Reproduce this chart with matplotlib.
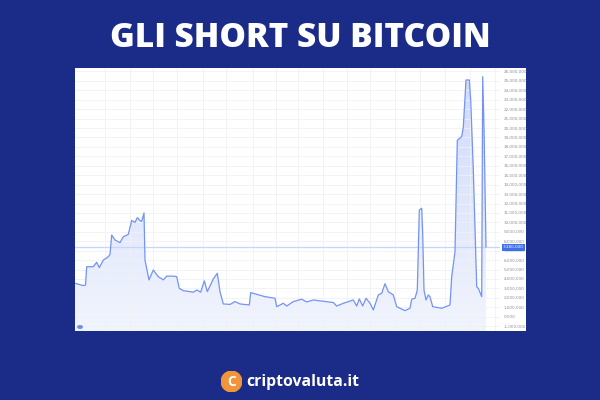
import matplotlib.pyplot as plt
import matplotlib.patches as mpatches
import numpy as np

# Short positions on bitcoin (values in millions), time as day index
days = [0, 8, 10.5, 11.7, 18.3, 21.7, 24.3, 28.3, 33.3, 35, 36.7, 40, 45, 48.3,
        53.3, 56.7, 60, 62.3, 65, 66.7, 69, 70, 74, 78.3, 83.3, 88.3, 91.7,
        98.3, 101.7, 104.3, 108.3, 118.3, 121.7, 125.7, 129.3, 132.3, 138.3,
        142.3, 145, 148.3, 155, 160, 165, 174.3, 175.7, 190, 200, 201.7, 208.3,
        211.7, 218.3, 226.7, 231.7, 238.3, 258.3, 261.7, 268.3, 278.3, 281.7,
        284.3, 287.7, 291, 295, 298.3, 303.3, 306.7, 310, 313.3, 318.3, 321.7,
        325, 330, 335, 336.7, 340, 342.3, 344.3, 346.7, 347.7, 349, 351, 353.3,
        355, 357.7, 366.7, 375, 376.7, 380, 382.3, 386.7, 388.3, 391, 394.3,
        395.7, 398.3, 401.7, 403.3, 406.7, 407.7, 409, 411]
shorts = [3.54, 3.3, 3.35, 5.3, 5.3, 5.77, 5.2, 6.0, 6.36, 6.6, 8.66, 8.13, 7.85,
          8.48, 8.73, 10.2, 10.0, 10.5, 10.2, 10.1, 11.0, 6.0, 3.9, 4.95, 4.24,
          3.9, 4.3, 4.3, 4.24, 3.0, 2.76, 2.6, 2.83, 2.6, 3.8, 2.65, 4.0, 4.6,
          2.65, 1.35, 1.3, 1.6, 1.35, 1.24, 2.55, 2.12, 1.95, 1.06, 1.42, 1.13,
          1.6, 1.85, 1.56, 1.77, 1.5, 1.13, 1.42, 1.77, 1.13, 1.88, 1.13, 1.95,
          1.42, 0.71, 2.3, 2.48, 3.5, 2.65, 2.3, 1.06, 0.89, 0.64, 0.89, 1.85,
          1.95, 2.83, 11.3, 11.5, 8.8, 2.83, 1.77, 2.3, 2.12, 1.06, 0.89, 1.24,
          4.24, 6.9, 18.7, 19.1, 20.1, 25.1, 25.1, 23.0, 15.6, 3.18, 3.0, 2.12,
          25.45, 20.1, 7.4]
grid_days = [30, 55, 78, 102, 128, 151, 178, 201, 223, 248, 272, 295, 320,
             345, 370, 395, 420]
y_ticks = list(range(-1, 27))
last_value = 7.38

bg = '#1b2b88'
line_col = '#7393f6'

fig = plt.figure(figsize=(6, 4), dpi=100)
fig.patch.set_facecolor(bg)

fig.text(0.5, 1 - 38 / 400, 'GLI SHORT SU BITCOIN', color='white',
         fontsize=24, fontweight='heavy', family='Open Sans',
         ha='center', va='center')

# white chart panel
fig.patches.append(mpatches.Rectangle((75 / 600, 1 - 331 / 400), 451 / 600,
                                      263 / 400, transform=fig.transFigure,
                                      facecolor='white', edgecolor='none',
                                      zorder=-5))

ax = fig.add_axes([75 / 600, 1 - 331 / 400, 425 / 600, 263 / 400])
ax.patch.set_alpha(0)
for s in ax.spines.values():
    s.set_visible(False)

x = np.array(days)
y = np.array(shorts)

# gradient fill under the line
ymin, ymax = -1.52, 26.37
grad = np.linspace(0.15, 0.55, 256).reshape(-1, 1)
cmap = plt.matplotlib.colors.LinearSegmentedColormap.from_list(
    'g', ['#ffffff', '#c9d6fb'])
im = ax.imshow(grad, extent=[0, 425, ymin, ymax], aspect='auto',
               cmap=cmap, vmin=0, vmax=0.6, origin='lower', zorder=1)
poly = ax.fill_between(x, y, ymin, color='none')
im.set_clip_path(poly.get_paths()[0], ax.transData)

ax.plot(x, y, color=line_col, lw=0.9, zorder=3)

ax.set_xlim(0, 425)
ax.set_ylim(ymin, ymax)
ax.set_xticks(grid_days)
ax.set_xticklabels([])
ax.tick_params(axis='x', length=0)
ax.set_yticks(y_ticks)
labels = []
for v in y_ticks:
    if v == 0:
        labels.append('0.000')
    else:
        labels.append(f'{v * 1000000:,}')
ax.set_yticklabels(labels)
ax.yaxis.tick_right()
ax.tick_params(axis='y', length=0, labelsize=3.0, labelcolor='#8a8f99', pad=2.5)
ax.grid(True, color='#f0f1f6', lw=0.6, zorder=0)

ax.axhline(last_value, color='#c6d5fb', lw=0.9, zorder=2)
ax.text(1.0 + 3 / 425, last_value, '7,380,000',
        transform=ax.get_yaxis_transform(),
        fontsize=3.0, color='white', va='center', ha='left',
        bbox=dict(boxstyle='square,pad=0.35', fc='#3f6ef0', ec='none'))

# small chart logo bottom left
fig.patches.append(mpatches.Ellipse((80 / 600, 1 - 327 / 400), 6 / 600,
                                    4 / 400, transform=fig.transFigure,
                                    facecolor='#6d8fe8', edgecolor='none'))

# logo at bottom
lax = fig.add_axes([221 / 600, 1 - 392 / 400, 21 / 600, 21 / 400])
lax.set_xlim(-1, 1)
lax.set_ylim(-1, 1)
lax.axis('off')
lax.add_patch(mpatches.Circle((0, 0), 0.98, color='#f0953a'))
lax.text(0, -0.05, 'C', color='white', fontsize=10, fontweight='bold',
         family='Open Sans', ha='center', va='center')
fig.text(246 / 600, 1 - 382 / 400, 'criptovaluta.it', color='white',
         fontsize=11.3, fontweight='bold', family='Open Sans',
         ha='left', va='center')

fig.savefig('out.png', dpi=100, facecolor=bg)
